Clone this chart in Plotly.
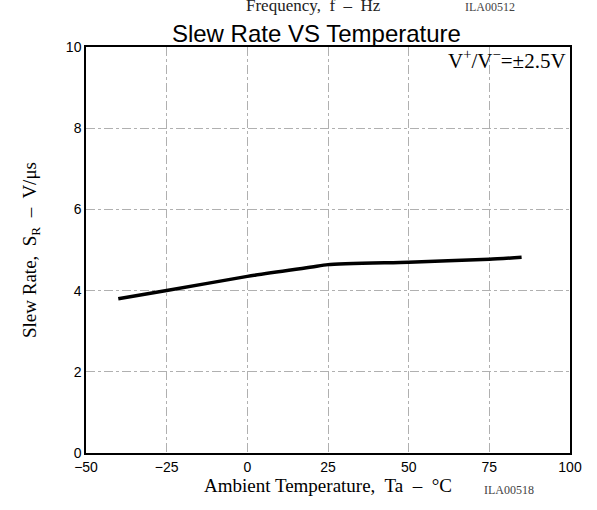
import plotly.graph_objects as go

temps = [-40, -25, 0, 20, 25, 50, 75, 85]
slew = [3.80, 4.00, 4.35, 4.58, 4.64, 4.70, 4.77, 4.82]
x_ticks = [-50, -25, 0, 25, 50, 75, 100]
y_ticks = [0, 2, 4, 6, 8, 10]

fig = go.Figure()
fig.add_trace(go.Scatter(x=temps, y=slew, mode="lines",
                         line=dict(color="black", width=3.5, shape="spline", smoothing=0.6),
                         showlegend=False, hoverinfo="skip"))

serif = "Liberation Serif, Times New Roman, serif"
sans = "Liberation Sans, Arial, sans-serif"

fig.update_layout(
    width=597, height=510,
    margin=dict(l=86, r=27, t=47, b=57),
    paper_bgcolor="white", plot_bgcolor="white",
    xaxis=dict(range=[-50, 100], tickvals=x_ticks, ticks="", showline=True, mirror=True,
               linecolor="black", linewidth=1.5, showgrid=True, gridcolor="#b0b0b0",
               griddash="dashdot", gridwidth=0.8, zeroline=False,
               tickfont=dict(family=sans, size=14, color="black"),
               title=dict(text="Ambient Temperature,  Ta  –  °C", font=dict(family=serif, size=19, color="black"), standoff=4)),
    yaxis=dict(range=[0, 10], tickvals=y_ticks, ticks="", showline=True, mirror=True,
               linecolor="black", linewidth=1.5, showgrid=True, gridcolor="#b0b0b0",
               griddash="dashdot", gridwidth=0.8, zeroline=False,
               tickfont=dict(family=sans, size=14, color="black"),
               title=dict(text="Slew Rate,  S<sub>R</sub>  –  V/μs", font=dict(family=serif, size=19, color="black"), standoff=24)),
    title=dict(text="Slew Rate VS Temperature", x=0.53, xanchor="center", y=0.935, yanchor="middle",
               font=dict(family=sans, size=24, color="black")),
)

fig.add_annotation(x=1, y=1, xref="paper", yref="paper", xanchor="right", yanchor="top",
                   text="V<sup>+</sup>/V<sup>−</sup>=±2.5V", showarrow=False, xshift=-2, yshift=3,
                   font=dict(family=serif, size=21, color="black"))
fig.add_annotation(x=0.471, y=1.0, xref="paper", yref="paper", yanchor="middle", yshift=42,
                   text="Frequency,  f  –  Hz", showarrow=False,
                   font=dict(family=serif, size=17, color="#222"))
fig.add_annotation(x=0.89, y=1.0, xref="paper", yref="paper", yanchor="middle", yshift=40,
                   text="ILA00512", showarrow=False,
                   font=dict(family=serif, size=12, color="#444"))
fig.add_annotation(x=0.93, y=0.0, xref="paper", yref="paper", yanchor="middle", yshift=-37,
                   text="ILA00518", showarrow=False,
                   font=dict(family=serif, size=12, color="#444"))

fig.write_html("out.html")
